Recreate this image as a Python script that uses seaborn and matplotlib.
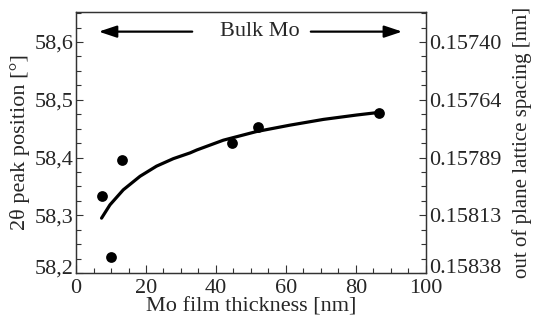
import numpy as np
import pandas as pd
import matplotlib
matplotlib.use("Agg")
import matplotlib.pyplot as plt
import matplotlib.transforms as mtransforms
from matplotlib.ticker import MultipleLocator, FixedLocator, FixedFormatter
import seaborn as sns

# measured data points (film thickness [nm], 2theta peak position [deg])
thickness = [7.3, 9.9, 13.0, 44.5, 52.1, 86.7]
peak_pos = [58.333, 58.228, 58.395, 58.4256, 58.452, 58.4765]

# fitted curve
fit_thickness = [7.3, 9.7, 13.5, 18.3, 23.0, 27.8, 32.6, 34.5, 42.1, 51.6, 61.1, 70.7, 80.2, 86.4]
fit_pos = [58.295, 58.318, 58.344, 58.3675, 58.385, 58.398, 58.408, 58.413,
           58.430, 58.445, 58.456, 58.466, 58.4736, 58.478]

# axis ticks
y_ticks = [58.2, 58.3, 58.4, 58.5, 58.6]
y_tick_labels = ["58,2", "58,3", "58,4", "58,5", "58,6"]
spacing_labels = ["0.15838", "0.15813", "0.15789", "0.15764", "0.15740"]

sns.set_theme(style="ticks")
plt.rcParams['font.family'] = ['Liberation Serif', 'DejaVu Serif']

pts = pd.DataFrame({"thickness": thickness, "pos": peak_pos})
fit = pd.DataFrame({"thickness": fit_thickness, "pos": fit_pos})

fig = plt.figure(figsize=(5.33, 3.2), dpi=100)
ax = fig.add_axes([0.1426, 0.1469, 0.6566, 0.8156])

sns.lineplot(data=fit, x="thickness", y="pos", ax=ax, color="black", linewidth=2.3, sort=False)
sns.scatterplot(data=pts, x="thickness", y="pos", ax=ax, color="black", s=60,
                edgecolor="black", linewidth=0, zorder=3)

ax.set_xlim(0, 100)
ax.set_ylim(58.2, 58.652)
ax.xaxis.set_major_locator(MultipleLocator(20))
ax.xaxis.set_minor_locator(MultipleLocator(5))
ax.yaxis.set_major_locator(FixedLocator(y_ticks))
ax.yaxis.set_major_formatter(FixedFormatter(y_tick_labels))
ax.yaxis.set_minor_locator(MultipleLocator(0.025))

fs = 16
ax.tick_params(which="both", direction="in", labelsize=fs, color="#333333", width=0.8)
ax.tick_params(axis="x", which="major", length=6, pad=4)
ax.tick_params(axis="x", which="minor", length=3.5)
ax.tick_params(axis="y", which="major", length=5, pad=2)
ax.tick_params(axis="y", which="minor", length=3.5)
ax.tick_params(top=False, right=False, which="both")

ax.set_xlabel("Mo film thickness [nm]", fontsize=fs, labelpad=0)
ax.set_ylabel("2θ peak position [°]", fontsize=fs, labelpad=3)

ax2 = ax.twinx()
ax2.set_ylim(ax.get_ylim())
ax2.yaxis.set_major_locator(FixedLocator(y_ticks))
ax2.yaxis.set_major_formatter(FixedFormatter(spacing_labels))
ax2.yaxis.set_minor_locator(MultipleLocator(0.025))
ax2.tick_params(which="both", direction="in", labelsize=fs, color="#333333", width=0.8)
ax2.tick_params(which="major", length=5, pad=2)
ax2.tick_params(which="minor", length=3.5)
ax2.set_ylabel("out of plane lattice spacing [nm]", fontsize=15, labelpad=8)

for a in (ax, ax2):
    for sp in a.spines.values():
        sp.set_visible(True)
        sp.set_linewidth(0.9)
        sp.set_color("#333333")

# the lowest labels sit a little above the bottom corner, as in the original
fig.canvas.draw()
shift = mtransforms.ScaledTranslation(0, 5 / 72, fig.dpi_scale_trans)
for lab in (ax.get_yticklabels()[0], ax2.get_yticklabels()[0]):
    lab.set_transform(lab.get_transform() + shift)

# bulk Mo annotation with arrows
ax.text(52.5, 58.618, "Bulk Mo", ha="center", va="center", fontsize=fs)
ax.annotate("", xy=(5.7, 58.618), xytext=(34, 58.618),
            arrowprops=dict(arrowstyle="-|>,head_length=0.9,head_width=0.3", color="black", lw=1.6))
ax.annotate("", xy=(94, 58.618), xytext=(66.3, 58.618),
            arrowprops=dict(arrowstyle="-|>,head_length=0.9,head_width=0.3", color="black", lw=1.6))

fig.savefig("out.png", dpi=100)
